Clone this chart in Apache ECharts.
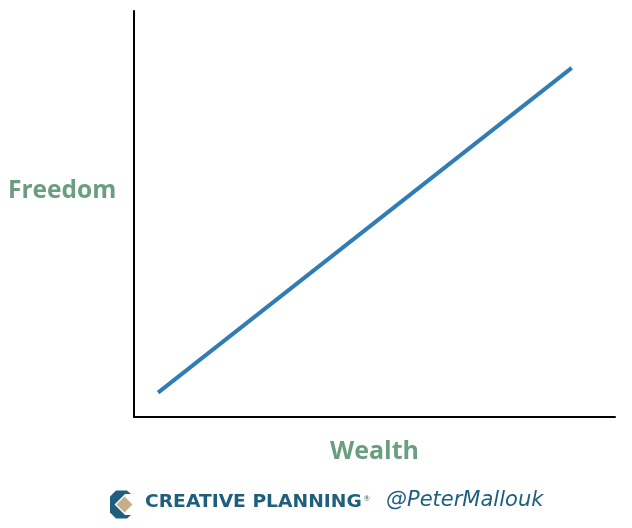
<!DOCTYPE html>
<html><head><meta charset="utf-8">
<script src="https://cdn.jsdelivr.net/npm/echarts@6/dist/echarts.min.js"></script>
<style>html,body{margin:0;padding:0;background:#fff}#c{width:632px;height:528px}</style>
</head><body><div id="c"></div>
<script>
var wealth = [0.5, 9.1];
var freedom = [0.6, 8.6];
var xLabel = 'Wealth';
var yLabel = 'Freedom';
var brand = 'CREATIVE PLANNING';
var handle = '@PeterMallouk';

var chart = echarts.init(document.getElementById('c'));
var pts = wealth.map(function(w, i){ return [w, freedom[i]]; });
chart.setOption({
  animation: false,
  grid: {left: 134, right: 17, top: 11, bottom: 111},
  xAxis: {type: 'value', min: 0, max: 10,
    axisLine: {show: true, lineStyle: {color: '#000', width: 2}},
    axisTick: {show: false}, axisLabel: {show: false}, splitLine: {show: false},
    name: xLabel, nameLocation: 'middle', nameGap: 22,
    nameTextStyle: {color: '#6b9e7f', fontSize: 25, fontWeight: 'bold', fontFamily: 'Open Sans'}},
  yAxis: {type: 'value', min: 0, max: 10,
    axisLine: {show: true, lineStyle: {color: '#000', width: 2}},
    axisTick: {show: false}, axisLabel: {show: false}, splitLine: {show: false}},
  series: [{type: 'line', data: pts, symbol: 'none',
    lineStyle: {color: '#2f7db4', width: 4}}],
  graphic: [
    {type: 'text', left: 8, top: 179, style: {text: yLabel, fill: '#6b9e7f', fontSize: 24.5, fontWeight: 'bold', fontFamily: 'Open Sans'}},
    {type: 'polygon', shape: {points: [[116,490.5],[127,490.5],[131,494],[131,515],[127,518.5],[116,518.5],[110,512.5],[110,496.5]]}, style: {fill: '#1f5f7d'}},
    {type: 'polygon', shape: {points: [[125,494],[135,494],[135,515],[125,515],[114.5,504.5]]}, style: {fill: '#fff'}},
    {type: 'polygon', shape: {points: [[124.5,496.5],[132.5,504.5],[124.5,512.5],[116.5,504.5]]}, style: {fill: '#c9ad86'}},
    {type: 'text', x: 145, y: 494, scaleX: 1.1, style: {text: brand, fill: '#1f5f7d', fontSize: 17, fontWeight: 'bold', fontFamily: 'DejaVu Sans'}},
    {type: 'text', left: 364, top: 495, style: {text: '®', fill: '#1f5f7d', fontSize: 7, fontFamily: 'Lato'}},
    {type: 'text', left: 386, top: 490, style: {text: handle, fill: '#1f5f7d', fontSize: 21, fontStyle: 'italic', fontFamily: 'DejaVu Sans'}}
  ]
});
</script></body></html>
